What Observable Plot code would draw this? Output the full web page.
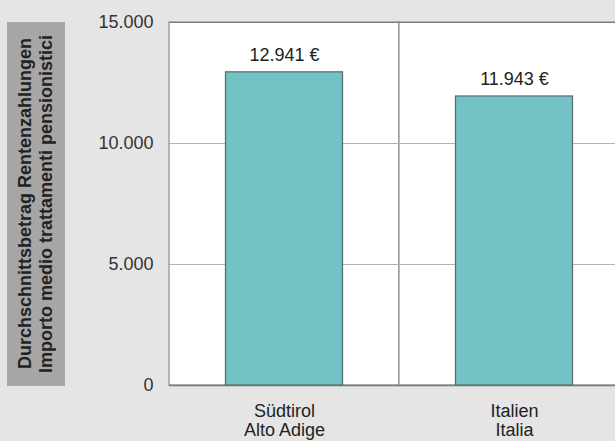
<!DOCTYPE html>
<html><head><meta charset="utf-8">
<script src="https://cdn.jsdelivr.net/npm/d3@7"></script>
<script src="https://cdn.jsdelivr.net/npm/@observablehq/plot@0.6"></script>
<style>
html,body{margin:0;padding:0;background:#e5e5e5;overflow:hidden;width:615px;height:441px}
#wrap{position:relative;width:615px;height:441px}
#wrap svg{position:absolute;left:0;top:0}
#ylab{position:absolute;z-index:2;left:7px;top:22px;width:58px;height:364px;background:#a6a6a6;display:flex;align-items:center;justify-content:center}
#ylab div{writing-mode:vertical-rl;transform:rotate(180deg);font:bold 18px "Liberation Sans",Arial,sans-serif;color:#222;line-height:21px;text-align:center;white-space:nowrap}
</style></head><body>
<div id="wrap"><div id="ylab"><div id="ylabText"></div></div></div>
<script>
const categories = ["Südtirol", "Italien"];
const categoryLabels = ["Südtirol\nAlto Adige", "Italien\nItalia"];
const values = [12941, 11943];
const yTicks = [0, 5000, 10000, 15000];
const yTitleLines = ["Durchschnittsbetrag Rentenzahlungen", "Importo medio trattamenti pensionistici"];

const t = document.getElementById("ylabText");
yTitleLines.forEach((s, i) => { if (i) t.appendChild(document.createElement("br")); t.appendChild(document.createTextNode(s)); });

const data = categories.map((c, i) => ({category: c, value: values[i]}));
const locale = d3.formatLocale({decimal: ",", thousands: ".", grouping: [3], currency: ["", " €"]});
const fmt = locale.format(",d");
const yMax = yTicks[yTicks.length - 1];

const chart = Plot.plot({
  width: 615, height: 441,
  marginLeft: 169, marginTop: 22, marginBottom: 56, marginRight: 0,
  style: {background: "transparent", fontFamily: "'Liberation Sans', Arial, sans-serif", fontSize: "18px", color: "#333"},
  x: {domain: categories, range: [169, 629], padding: 0, axis: null},
  y: {domain: [0, yMax], axis: null},
  marks: [
    Plot.barY(categories, {x: d => d, y: () => yMax, fill: "white", stroke: "#8f8f8f", strokeWidth: 1.2}),
    Plot.ruleY(yTicks.slice(1, -1), {stroke: "#b3b3b3", strokeWidth: 1.2}),
    Plot.ruleY([yMax], {stroke: "#7a7a7a", strokeWidth: 1.2}),
    Plot.ruleY([0], {stroke: "#7a7a7a", strokeWidth: 1.5}),
    Plot.barY(data, {x: "category", y: "value", fill: "#73c2c5", stroke: "#56696a", strokeWidth: 1.2, insetLeft: 56.5, insetRight: 56.5}),
    Plot.text(data, {x: "category", y: "value", text: d => fmt(d.value) + " €", dy: -11, lineAnchor: "bottom", fontSize: 18, fill: "#222"}),
    Plot.axisY({ticks: yTicks, tickSize: 0, tickPadding: 16, tickFormat: fmt, fontSize: 18, fill: "#333", label: null}),
    Plot.axisX({tickSize: 0, tickPadding: 17, tickFormat: c => categoryLabels[categories.indexOf(c)], fontSize: 18, lineHeight: 1.1, fill: "#222", label: null})
  ]
});
document.getElementById("wrap").appendChild(chart);
</script>
</body></html>
